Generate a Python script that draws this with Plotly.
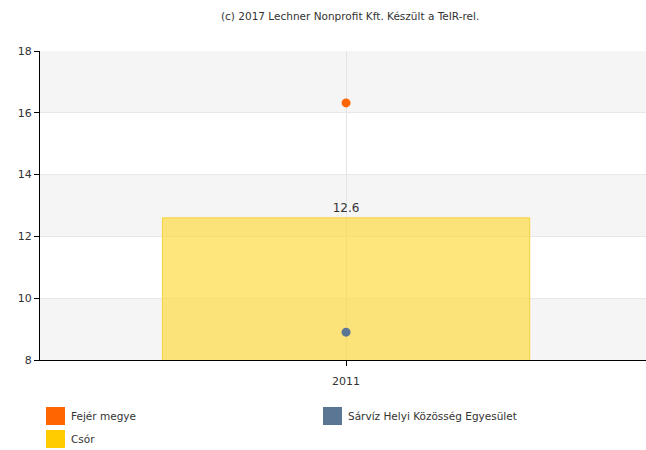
import plotly.graph_objects as go

# Data
years = ["2011"]
csor = [12.6]
fejer = [16.32]
sarviz = [8.9]

series_names = ["Fejér megye", "Sárvíz Helyi Közösség Egyesület", "Csór"]
series_colors = ["#FF6600", "#5B7594", "#FFCC00"]

y_ticks = [8, 10, 12, 14, 16, 18]
band_edges = [(8, 10), (12, 14), (16, 18)]

font_family = "DejaVu Sans, Verdana, sans-serif"

W, H = 646, 450
ML, MR, MT, MB = 40, 0, 51, 90
PW, PH = W - ML - MR, H - MT - MB


def px_x(px):
    """Convert a figure pixel column to paper x."""
    return (px - ML) / PW


def px_y(py):
    """Convert a figure pixel row to paper y."""
    return (H - MB - py) / PH


fig = go.Figure()

fig.add_trace(go.Bar(
    x=years, y=csor, name="Csór", width=0.6,
    marker=dict(color="rgba(253,216,53,0.65)", line=dict(color="#F7D23C", width=1)),
    text=[f"{v:.1f}" for v in csor], textposition="outside",
    textfont=dict(size=12, color="#333333", family=font_family),
    cliponaxis=False, showlegend=False,
))
fig.add_trace(go.Scatter(
    x=years, y=fejer, mode="markers", name="Fejér megye",
    marker=dict(color="#FF6600", size=9), showlegend=False,
))
fig.add_trace(go.Scatter(
    x=years, y=sarviz, mode="markers", name="Sárvíz Helyi Közösség Egyesület",
    marker=dict(color="#5B7594", size=9), showlegend=False,
))

shapes = []
for lo, hi in band_edges:
    shapes.append(dict(type="rect", xref="paper", yref="y", x0=0, x1=1, y0=lo, y1=hi,
                       fillcolor="#F5F5F5", line=dict(width=0), layer="below"))

# Custom legend: square swatches with labels
legend_pos = [(46, 407), (323, 407), (46, 430)]
annotations = []
for (px, py), name, col in zip(legend_pos, series_names, series_colors):
    shapes.append(dict(type="rect", xref="paper", yref="paper",
                       x0=px_x(px), x1=px_x(px + 19), y0=px_y(py + 18), y1=px_y(py),
                       fillcolor=col, line=dict(width=0)))
    annotations.append(dict(xref="paper", yref="paper", x=px_x(px + 23), y=px_y(py + 9),
                            text=name, showarrow=False, xanchor="left", yanchor="middle",
                            font=dict(size=10.5, color="#333333", family=font_family)))

annotations.append(dict(xref="paper", yref="paper", x=px_x(350), y=px_y(16),
                        text="(c) 2017 Lechner Nonprofit Kft. Készült a TeIR-rel.",
                        showarrow=False, xanchor="center", yanchor="middle",
                        font=dict(size=10.5, color="#333333", family=font_family)))

fig.update_layout(
    width=W, height=H,
    margin=dict(l=ML, r=MR, t=MT, b=MB),
    paper_bgcolor="white", plot_bgcolor="white",
    shapes=shapes, annotations=annotations,
    showlegend=False,
    font=dict(family=font_family, color="#333333"),
)
fig.update_xaxes(
    type="category", range=[-0.5, 0.49],
    showline=True, linecolor="#000000", linewidth=1,
    ticks="outside", ticklen=5, tickcolor="#000000",
    ticklabelstandoff=6,
    showgrid=True, gridcolor="#E4E4E4",
    tickfont=dict(size=11, color="#333333"),
)
fig.update_yaxes(
    range=[8, 18], tickvals=y_ticks,
    showline=True, linecolor="#000000", linewidth=1,
    ticks="outside", ticklen=5, tickcolor="#000000",
    showgrid=True, gridcolor="#E8E8E8", zeroline=False,
    tickfont=dict(size=11, color="#333333"),
)

fig.write_html("out.html")
